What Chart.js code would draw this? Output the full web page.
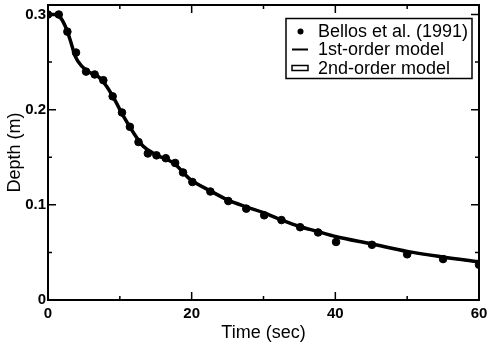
<!DOCTYPE html>
<html>
<head>
<meta charset="utf-8">
<style>
  html, body { margin: 0; padding: 0; background: #fff; }
  #wrap { width: 488px; height: 344px; }
</style>
</head>
<body>
<div id="wrap"><canvas id="depthChart" width="488" height="344"></canvas></div>

<script src="https://cdn.jsdelivr.net/npm/chart.js"></script>

<script>
  // measured depths, Bellos et al. (1991)
  const obsTime  = [0, 1.5, 2.7, 3.9, 5.3, 6.5, 7.7, 9.0, 10.3, 11.4, 12.6, 13.9, 15.1, 16.4, 17.7, 18.8,
                    20.1, 22.6, 25.1, 27.6, 30.1, 32.5, 35.1, 37.6, 40.1, 45.1, 50.0, 55.0, 60.0];
  const obsDepth = [0.300, 0.300, 0.282, 0.260, 0.240, 0.237, 0.231, 0.214, 0.197, 0.182, 0.166, 0.154, 0.152, 0.149, 0.144, 0.134,
                    0.124, 0.114, 0.104, 0.096, 0.089, 0.084, 0.0765, 0.071, 0.061, 0.058, 0.048, 0.043, 0.037];

  // model curves
  const modelTime    = [0, 1, 1.8, 2.5, 3.1, 3.8, 4.7, 5.8, 7.0, 8.2, 9.3, 10.5, 11.9, 13.3, 15.1, 17.5,
                        19.8, 22.5, 25, 27.5, 30, 32.5, 35, 37.5, 40, 45, 50, 55, 60];
  const firstOrder   = [0.300, 0.300, 0.297, 0.287, 0.274, 0.255, 0.2456, 0.239, 0.235, 0.2245, 0.2105, 0.193, 0.1755, 0.161, 0.1526, 0.144,
                        0.127, 0.115, 0.105, 0.098, 0.092, 0.084, 0.077, 0.072, 0.0667, 0.059, 0.051, 0.045, 0.040];
  const secondOrder  = [0.300, 0.300, 0.296, 0.286, 0.273, 0.256, 0.2458, 0.2392, 0.2348, 0.2242, 0.2102, 0.1932, 0.1758, 0.1612, 0.1524, 0.1438,
                        0.1268, 0.1151, 0.1052, 0.0981, 0.0918, 0.0841, 0.0772, 0.0721, 0.0668, 0.0591, 0.0511, 0.0452, 0.0401];

  const yTicks = [0, 0.1, 0.2, 0.3];
  const yMinor = [0.05, 0.15, 0.25];
  const xTicks = [0, 20, 40, 60];
  const xMinor = [10, 30, 50];

  const legendItems = ['Bellos et al. (1991)', '1st-order model', '2nd-order model'];

  const toXY = (xs, ys) => xs.map((x, i) => ({ x: x, y: ys[i] }));

  // frame + inward tick marks on all four sides
  const framePlugin = {
    id: 'frame',
    afterDraw(chart) {
      const { ctx, chartArea: a, scales } = chart;
      const xs = scales.x, ys = scales.y;
      ctx.save();
      ctx.strokeStyle = '#000';
      ctx.lineWidth = 1.5;
      const tick = (vals, len, isX) => {
        vals.forEach(v => {
          ctx.beginPath();
          if (isX) {
            const px = xs.getPixelForValue(v);
            ctx.moveTo(px, a.bottom); ctx.lineTo(px, a.bottom - len);
            ctx.moveTo(px, a.top); ctx.lineTo(px, a.top + len);
          } else {
            const py = ys.getPixelForValue(v);
            ctx.moveTo(a.left, py); ctx.lineTo(a.left + len, py);
            ctx.moveTo(a.right, py); ctx.lineTo(a.right - len, py);
          }
          ctx.stroke();
        });
      };
      tick(xTicks, 8, true);
      tick(xMinor, 4, true);
      tick(yTicks, 8, false);
      tick(yMinor, 4, false);
      ctx.lineWidth = 2;
      ctx.strokeRect(a.left, a.top, a.right - a.left, a.bottom - a.top);
      ctx.restore();
    }
  };

  // boxed legend in the upper right corner
  const legendPlugin = {
    id: 'boxLegend',
    afterDraw(chart) {
      const ctx = chart.ctx;
      const bx = 286, by = 18.5, bw = 186, bh = 60;
      ctx.save();
      ctx.fillStyle = '#fff';
      ctx.fillRect(bx, by, bw, bh);
      ctx.strokeStyle = '#000';
      ctx.lineWidth = 1.5;
      ctx.strokeRect(bx, by, bw, bh);
      ctx.font = '18px "Liberation Sans", Arial, sans-serif';
      ctx.textBaseline = 'middle';
      ctx.fillStyle = '#000';
      const rows = [31.5, 49.5, 68];
      legendItems.forEach((t, i) => ctx.fillText(t, 318, rows[i] + 1));
      // symbols
      ctx.beginPath();
      ctx.arc(300.5, rows[0], 3, 0, Math.PI * 2);
      ctx.fill();
      ctx.lineWidth = 2;
      ctx.beginPath();
      ctx.moveTo(292, rows[1]); ctx.lineTo(308, rows[1]);
      ctx.stroke();
      ctx.lineWidth = 1.5;
      ctx.fillStyle = '#fff';
      ctx.fillRect(292, rows[2] - 2.5, 16, 5);
      ctx.strokeRect(292, rows[2] - 2.5, 16, 5);
      ctx.restore();
    }
  };

  const tickFont = { family: '"Liberation Sans", Arial, sans-serif', size: 15, weight: 'bold' };
  const titleFont = { family: '"Liberation Sans", Arial, sans-serif', size: 18 };

  new Chart(document.getElementById('depthChart').getContext('2d'), {
    type: 'scatter',
    data: {
      datasets: [
        {
          label: legendItems[2],
          type: 'line',
          data: toXY(modelTime, secondOrder),
          borderColor: '#000',
          borderWidth: 3.5,
          pointRadius: 0,
          cubicInterpolationMode: 'monotone',
          fill: false
        },
        {
          label: legendItems[1],
          type: 'line',
          data: toXY(modelTime, firstOrder),
          borderColor: '#000',
          borderWidth: 2,
          pointRadius: 0,
          cubicInterpolationMode: 'monotone',
          fill: false
        },
        {
          label: legendItems[0],
          data: toXY(obsTime, obsDepth),
          backgroundColor: '#000',
          borderColor: '#000',
          pointRadius: 3.8,
          pointHoverRadius: 3.8
        }
      ]
    },
    options: {
      responsive: false,
      animation: false,
      layout: { padding: { top: 5, right: 9, left: 0, bottom: 0 } },
      plugins: { legend: { display: false }, tooltip: { enabled: false } },
      scales: {
        x: {
          type: 'linear',
          min: 0,
          max: 60,
          afterBuildTicks: s => { s.ticks = xTicks.map(v => ({ value: v })); },
          afterFit: s => { s.height = 44; s.paddingLeft = 0; s.paddingRight = 0; },
          grid: { display: false, drawTicks: false },
          border: { display: false },
          ticks: { color: '#000', font: tickFont, padding: 5, maxRotation: 0 },
          title: { display: true, text: 'Time (sec)', color: '#000', font: titleFont, padding: { top: 0, bottom: 0 } }
        },
        y: {
          type: 'linear',
          min: 0,
          max: 0.31,
          afterBuildTicks: s => { s.ticks = yTicks.map(v => ({ value: v })); },
          afterFit: s => { s.width = 48; s.paddingTop = 0; s.paddingBottom = 0; },
          grid: { display: false, drawTicks: false },
          border: { display: false },
          ticks: { color: '#000', font: tickFont, padding: 2, callback: v => String(v) },
          title: { display: true, text: 'Depth (m)', color: '#000', font: titleFont, padding: { top: 4, bottom: 0 } }
        }
      }
    },
    plugins: [framePlugin, legendPlugin]
  });
</script>
</body>
</html>
